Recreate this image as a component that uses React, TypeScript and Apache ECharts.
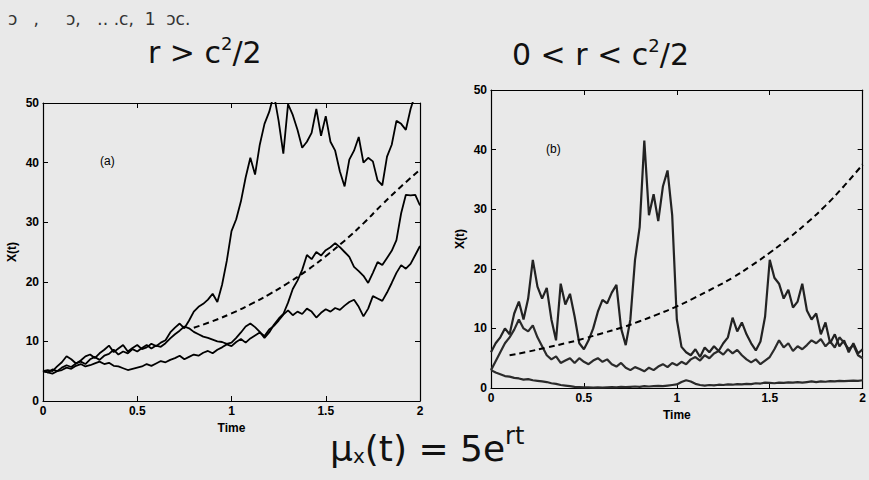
import React, { useEffect, useRef } from "react";
import * as echarts from "echarts";

// time grid (step 0.025 from 0 to 2)
const TIMES: number[] = Array.from({ length: 81 }, (_, i) => +(i * 0.025).toFixed(3));

// Panel (a): r > c^2/2
const pathA1 = [5, 5.2, 5.0, 5.8, 6.5, 7.5, 7.0, 6.3, 6.8, 7.5, 7.8, 7.2, 8.0, 8.6, 9.3, 8.2, 8.8, 9.4, 8.3, 8.9,
  9.4, 8.7, 9.0, 9.6, 9.2, 9.8, 10.2, 11.5, 12.3, 13.0, 12.2, 13.5, 15.0, 15.8, 16.3, 17.0, 18.0, 16.6, 19.5, 23.5,
  28.5, 30.5, 33.5, 37.5, 40.8, 38.0, 43.0, 46.5, 48.5, 51.5, 47.0, 41.5, 49.8, 48.0, 45.5, 42.5, 43.5, 45.0, 49.0, 44.5,
  47.8, 43.5, 42.0, 38.5, 36.0, 40.5, 42.0, 44.3, 40.0, 40.8, 40.2, 37.0, 36.2, 41.0, 43.0, 47.0, 46.5, 45.5, 49.0, 51.5, 50.5];
const pathA2 = [5, 4.8, 5.3, 5.0, 5.6, 6.0, 5.7, 6.3, 6.6, 6.2, 7.0, 7.4, 6.9, 7.6, 7.9, 8.6, 7.8, 8.3, 8.0, 8.7,
  8.3, 8.9, 9.4, 8.8, 9.3, 9.1, 9.7, 10.5, 11.2, 11.8, 12.5, 12.2, 11.6, 11.2, 10.8, 10.6, 10.3, 10.0, 9.9, 9.6,
  9.8, 10.6, 11.5, 12.5, 13.0, 12.4, 11.6, 10.6, 11.5, 12.8, 13.8, 14.6, 16.5, 18.8, 20.2, 22.0, 24.5, 23.8, 25.0, 24.4,
  25.3, 25.8, 26.5, 25.8, 25.0, 24.2, 22.5, 21.8, 21.0, 19.8, 21.5, 23.3, 22.8, 24.0, 25.2, 27.0, 31.5, 34.6, 34.5, 34.6, 32.8];
const pathA3 = [5, 4.8, 4.6, 5.0, 5.2, 5.6, 5.4, 5.9, 6.2, 5.8, 6.0, 6.3, 6.6, 6.2, 6.4, 5.9, 5.8, 5.5, 5.2, 5.4,
  5.6, 5.8, 6.2, 5.9, 6.3, 6.7, 6.5, 6.9, 7.2, 7.6, 7.0, 7.4, 7.8, 7.6, 8.1, 8.4, 8.0, 8.6, 9.0, 9.5,
  9.2, 9.9, 10.4, 9.8, 10.5, 11.0, 11.5, 10.9, 12.0, 12.6, 13.5, 14.5, 15.2, 14.4, 15.0, 14.6, 15.5, 15.0, 14.0, 14.8,
  15.4, 15.0, 15.6, 15.3, 16.0, 16.6, 17.0, 15.8, 14.2, 15.5, 17.6, 17.2, 16.8, 18.2, 19.8, 21.5, 22.8, 22.2, 23.0, 24.5, 26.0];
const meanA_T = [0.8, 0.9, 1.0, 1.1, 1.2, 1.3, 1.4, 1.5, 1.6, 1.7, 1.8, 1.9, 2.0];
const meanA = [12.3, 13.4, 14.7, 16.2, 17.9, 19.8, 21.9, 24.3, 26.9, 29.8, 33.0, 36.0, 38.8];

// Panel (b): 0 < r < c^2/2
const pathB1 = [6.0, 7.5, 8.5, 10.0, 9.0, 12.5, 14.5, 11.5, 15.0, 21.5, 17.0, 15.0, 16.8, 11.5, 8.0, 17.5, 14.0, 15.8, 12.0, 7.5,
  6.5, 8.0, 10.0, 12.8, 14.8, 14.2, 16.0, 17.3, 10.0, 7.2, 11.5, 21.5, 27.0, 41.5, 29.0, 32.5, 28.0, 33.8, 36.5, 29.0,
  11.5, 6.9, 6.0, 5.5, 6.5, 5.2, 6.8, 6.0, 7.0, 6.2, 7.5, 8.5, 11.8, 9.5, 11.0, 9.0, 7.5, 6.3, 7.8, 12.0,
  21.5, 18.5, 17.5, 15.0, 16.5, 13.5, 14.5, 17.5, 13.0, 11.5, 12.5, 9.0, 11.0, 7.5, 9.0, 7.0, 8.0, 6.0, 7.5, 5.8, 6.5];
const pathB2 = [3.0, 4.5, 6.0, 7.5, 8.5, 9.8, 11.5, 10.0, 9.5, 10.5, 8.5, 7.0, 5.5, 4.8, 5.3, 4.2, 4.6, 5.0, 4.2, 5.0,
  4.4, 4.0, 4.6, 5.0, 4.4, 4.8, 4.0, 3.6, 4.2, 3.4, 3.0, 3.5, 3.2, 2.8, 3.4, 3.0, 3.6, 4.0, 3.5, 4.2,
  3.8, 4.4, 4.0, 4.8, 5.2, 4.6, 5.5, 5.0, 5.8, 6.2, 5.6, 6.5, 5.8, 6.4, 5.5, 4.8, 4.3, 4.8, 4.0, 4.6,
  5.2, 6.5, 8.0, 6.8, 7.5, 6.2, 7.0, 6.5, 7.2, 8.0, 7.5, 8.2, 7.0, 7.8, 6.8, 8.5, 7.6, 6.5, 7.2, 5.5, 5.0];
const pathB3 = [3.0, 2.6, 2.3, 2.0, 1.9, 1.7, 1.6, 1.4, 1.5, 1.3, 1.2, 1.1, 1.0, 0.8, 0.7, 0.5, 0.4, 0.3, 0.2, 0.15,
  0.1, 0.1, 0.05, 0.1, 0.05, 0.1, 0.15, 0.1, 0.2, 0.15, 0.2, 0.25, 0.2, 0.3, 0.25, 0.3, 0.35, 0.3, 0.4, 0.5,
  0.6, 1.0, 1.3, 1.1, 0.7, 0.5, 0.4, 0.5, 0.45, 0.55, 0.5, 0.6, 0.55, 0.65, 0.6, 0.7, 0.65, 0.8, 0.75, 0.9,
  0.85, 0.8, 0.9, 0.85, 0.95, 0.9, 1.0, 0.9, 1.0, 1.1, 1.0, 1.1, 1.05, 1.15, 1.1, 1.2, 1.15, 1.2, 1.25, 1.2, 1.3];
const meanB_T = [0.1, 0.2, 0.3, 0.4, 0.5, 0.6, 0.7, 0.8, 0.9, 1.0, 1.1, 1.2, 1.3, 1.4, 1.5, 1.6, 1.7, 1.8, 1.9, 2.0];
const meanB = [5.5, 6.1, 6.8, 7.5, 8.3, 9.2, 10.1, 11.2, 12.4, 13.7, 15.2, 16.8, 18.5, 20.5, 22.7, 25.1, 27.7, 30.6, 33.9, 37.5];

const X_TICKS = [0, 0.5, 1, 1.5, 2];
const Y_TICKS = [0, 10, 20, 30, 40, 50];

const zip = (t: number[], v: number[]) => t.map((x, i) => [x, v[i]]);

const FONT = "Liberation Sans";
const HAND = "DejaVu Sans";

export default function App() {
  const ref = useRef<HTMLDivElement>(null);
  useEffect(() => {
    if (!ref.current) return;
    const chart = echarts.init(ref.current, undefined, { renderer: "svg" });

    const grids = [
      { left: 43, top: 103, width: 377, height: 298 },
      { left: 491, top: 90, width: 376, height: 298 },
    ];
    const labelStyle = { color: "#000", fontFamily: FONT, fontSize: 12, fontWeight: "bold" as const };
    const xAxes: any[] = [];
    const yAxes: any[] = [];
    grids.forEach((_, gi) => {
      const base = {
        gridIndex: gi,
        type: "value",
        axisLine: { show: true, onZero: false, lineStyle: { color: "#000", width: 1.2 } },
        axisTick: { show: true, inside: true, length: 5, lineStyle: { color: "#000" } },
        splitLine: { show: false },
      };
      xAxes.push({
        ...base, position: "bottom", min: X_TICKS[0], max: X_TICKS[X_TICKS.length - 1], interval: 0.5,
        axisLabel: { ...labelStyle, margin: 4, formatter: (v: number) => String(v) },
        name: "Time", nameLocation: "middle", nameGap: 18,
        nameTextStyle: { ...labelStyle },
      });
      xAxes.push({
        ...base, position: "top", min: X_TICKS[0], max: X_TICKS[X_TICKS.length - 1], interval: 0.5,
        axisLabel: { show: false },
      });
      yAxes.push({
        ...base, position: "left", min: Y_TICKS[0], max: Y_TICKS[Y_TICKS.length - 1], interval: 10,
        axisLabel: { ...labelStyle, margin: 4 },
        name: "X(t)", nameLocation: "middle", nameGap: 25, nameRotate: 90,
        nameTextStyle: { ...labelStyle },
      });
      yAxes.push({
        ...base, position: "right", min: Y_TICKS[0], max: Y_TICKS[Y_TICKS.length - 1], interval: 10,
        axisLabel: { show: false },
      });
    });

    const solid = (data: number[], axisIdx: number, color: string, width: number) => ({
      type: "line",
      xAxisIndex: axisIdx * 2,
      yAxisIndex: axisIdx * 2,
      data: zip(TIMES, data),
      showSymbol: false,
      clip: true,
      lineStyle: { color, width },
    });
    const dashed = (t: number[], v: number[], axisIdx: number) => ({
      type: "line",
      xAxisIndex: axisIdx * 2,
      yAxisIndex: axisIdx * 2,
      data: zip(t, v),
      showSymbol: false,
      smooth: true,
      clip: true,
      lineStyle: { color: "#000", width: 2, type: [6, 4] },
      z: 3,
    });

    chart.setOption({
      animation: false,
      backgroundColor: "#e9e9e9",
      grid: grids,
      xAxis: xAxes,
      yAxis: yAxes,
      series: [
        solid(pathA3, 0, "#000", 1.8),
        solid(pathA2, 0, "#000", 1.8),
        solid(pathA1, 0, "#000", 1.8),
        dashed(meanA_T, meanA, 0),
        solid(pathB3, 1, "#2b2b2b", 2.2),
        solid(pathB2, 1, "#2b2b2b", 2.2),
        solid(pathB1, 1, "#222", 2.2),
        dashed(meanB_T, meanB, 1),
      ],
      graphic: [
        { type: "text", left: 100, top: 155, style: { text: "(a)", fontFamily: FONT, fontSize: 12, fill: "#000" } },
        { type: "text", left: 546, top: 143, style: { text: "(b)", fontFamily: FONT, fontSize: 12, fill: "#000" } },
        { type: "text", left: 8, top: 10, style: { text: "ɔ   ,     ɔ,   ‥ .c,  1  ɔc.", fontFamily: HAND, fontSize: 17, fill: "#333" } },
        {
          type: "text", left: 148, top: 34,
          style: {
            text: "{a|r > c}{s|2}{a|/2}",
            rich: {
              a: { fontFamily: HAND, fontSize: 30, fill: "#111" },
              s: { fontFamily: HAND, fontSize: 18, fill: "#111", verticalAlign: "top", padding: [0, 0, 18, 0] },
            },
          },
        },
        {
          type: "text", left: 512, top: 36,
          style: {
            text: "{a|0 < r < c}{s|2}{a|/2}",
            rich: {
              a: { fontFamily: HAND, fontSize: 30, fill: "#111" },
              s: { fontFamily: HAND, fontSize: 18, fill: "#111", verticalAlign: "top", padding: [0, 0, 18, 0] },
            },
          },
        },
        {
          type: "text", left: 330, top: 424,
          style: {
            text: "{a|μ}{b|x}{a|(t) = 5e}{s|rt}",
            rich: {
              a: { fontFamily: HAND, fontSize: 36, fill: "#111" },
              b: { fontFamily: HAND, fontSize: 20, fill: "#111", padding: [16, 0, 0, 0] },
              s: { fontFamily: HAND, fontSize: 24, fill: "#111", padding: [0, 0, 24, 0] },
            },
          },
        },
      ],
    });
    return () => chart.dispose();
  }, []);
  return (
    <div
      ref={ref}
      style={{ position: "fixed", left: 0, top: 0, width: 869, height: 480, background: "#e9e9e9" }}
    />
  );
}
